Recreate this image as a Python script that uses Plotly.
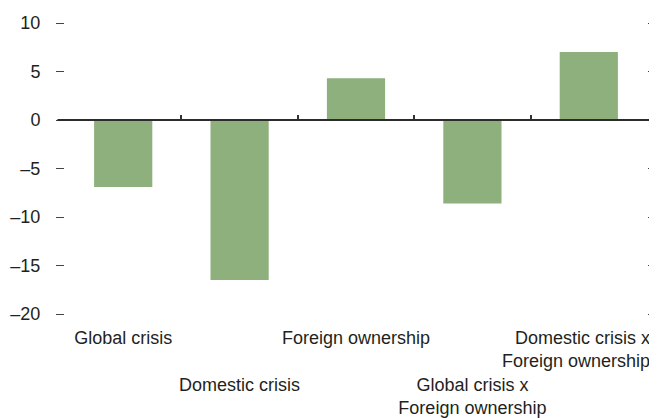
import plotly.graph_objects as go

# Staggered tick label text (rows alternate); the last one is placed as an annotation
tick_text = ["Global crisis",
             "<br><br>Domestic crisis",
             "Foreign ownership",
             "<br><br>Global crisis x<br>Foreign ownership",
             ""]
last_label = "Domestic crisis x<br>Foreign ownership"
bar_values = [-6.9, -16.5, 4.3, -8.6, 7.0]
y_tickvals = [10, 5, 0, -5, -10, -15, -20]
y_ticktext = ["10", "5", "0", "–5", "–10", "–15", "–20"]

FONT = "Liberation Sans Narrow, Arial Narrow, Liberation Sans, Arial, sans-serif"
positions = list(range(len(bar_values)))

fig = go.Figure()
fig.add_trace(go.Bar(x=positions, y=bar_values, marker=dict(color="#8db07d", line=dict(width=0)),
                     width=0.5, showlegend=False))
fig.add_trace(go.Scatter(x=[None], y=[None], xaxis="x2", showlegend=False))

fig.update_layout(
    width=657, height=418,
    margin=dict(l=57, r=18, t=15, b=112),
    paper_bgcolor="white", plot_bgcolor="white",
    font=dict(family=FONT, size=18, color="#231f20"),
    xaxis=dict(range=[-0.5, len(bar_values) - 0.5], tickvals=positions, ticktext=tick_text,
               tickangle=0, automargin=False, ticklabeloverflow="allow", ticklabelstandoff=11,
               showline=False, showgrid=False, zeroline=False, ticks=""),
    xaxis2=dict(overlaying="x", anchor="free", position=20/30, range=[-0.5, len(bar_values) - 0.5],
                tickvals=[p + 0.5 for p in positions[:-1]], ticks="inside", ticklen=5,
                tickcolor="#333", tickwidth=1.5, showticklabels=False, showgrid=False,
                showline=False, zeroline=False),
    yaxis=dict(range=[-20, 10], tickvals=y_tickvals, ticktext=y_ticktext,
               ticks="outside", ticklen=8, tickcolor="#444", tickwidth=1,
               mirror="ticks", showline=False, showgrid=False, zeroline=False,
               ticklabelstandoff=12, automargin=False),
    bargap=0.5,
    shapes=[dict(type="line", xref="paper", yref="y", x0=-0.013, x1=1.014, y0=0, y1=0,
                 line=dict(color="#2b2b2b", width=1.8))],
    annotations=[dict(text=last_label, x=positions[-1], xref="x", y=0, yref="paper",
                      xanchor="right", yanchor="top", align="right", xshift=62, yshift=-13,
                      showarrow=False, borderpad=0, font=dict(size=18, color="#231f20"))],
)

fig.write_html("out.html")
